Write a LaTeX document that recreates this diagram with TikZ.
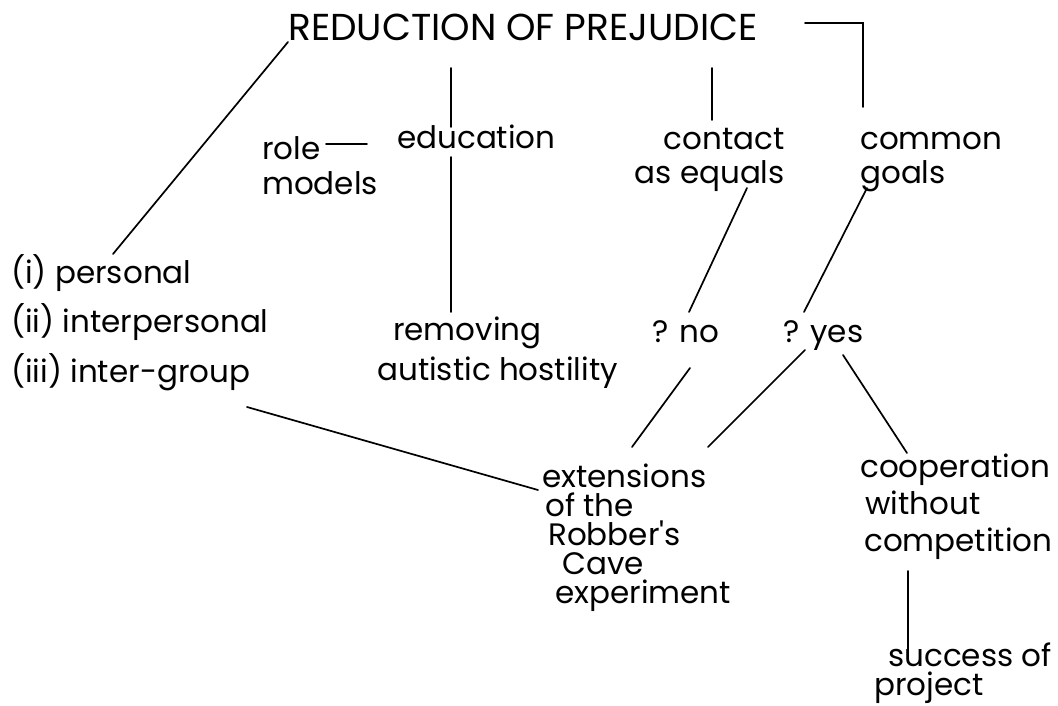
\documentclass[tikz,border=0pt]{standalone}
\usepackage{fontspec}
\setmainfont{Poppins}
\usetikzlibrary{calc}
\tikzset{
  termo/.style={anchor=base west, inner sep=0pt, align=left,
                font=\fontsize{31}{35}\selectfont},
  titulo/.style={termo, font=\fontsize{37.5}{40}\selectfont},
  traco/.style={line width=1.7pt, black, line cap=round},
}

\begin{document}
\begin{tikzpicture}[x=1pt, y=-1pt]
  \useasboundingbox (0,0) rectangle (1058,706);
  % nodes at pixel positions (base of last line)
  \node[titulo] (reduction) at (288,41) {REDUCTION OF PREJUDICE};
  \node[termo] (rolemodels) at (262,194) {role\\models};
  \node[termo] (education) at (397,149) {education};
  \node[termo, anchor=base east, align=right] (contact) at (785,184) {contact\\as equals};
  \node[termo] (common) at (860,184) {common\\goals};
  \node[termo] (personal) at (11,283) {(i) personal};
  \node[termo] (interpersonal) at (11,332) {(ii) interpersonal};
  \node[termo] (intergroup) at (11,382) {(iii) inter-group};
  \node[termo, font=\fontsize{31}{40}\selectfont] (removing) at (377,380)
       {\hspace{16pt}removing\\autistic hostility};
  \node[termo] (no) at (652,342) {? no};
  \node[termo] (yes) at (783,342) {? yes};
  \node[termo, font=\fontsize{31}{29}\selectfont] (extensions) at (542,603)
       {extensions\\\hspace{3pt}of the\\\hspace{6pt}Robber\textquotesingle s\\\hspace{20pt}Cave\\\hspace{13pt}experiment};
  \node[termo, font=\fontsize{31}{37}\selectfont] (cooperation) at (860,551)
       {cooperation\\\hspace{5pt}without\\\hspace{4pt}competition};
  \node[termo, font=\fontsize{31}{29}\selectfont] (success) at (874,695)
       {\hspace{14pt}success of\\project};
  % connectors
  \draw[traco] ($(reduction.base west)+(0,1)$) -- ($(personal.base west)+(102,-29)$);
  \draw[traco] ($(reduction.base west)+(163,27)$) -- ($(education.base west)+(54,-22)$);
  \draw[traco] ($(education.base west)+(54,8)$) -- ($(removing.base west)+(74,-68)$);
  \draw[traco] ($(reduction.base west)+(424,27)$) -- ($(contact.base east)+(-73,-64)$);
  \draw[traco] ($(reduction.base west)+(517,-18)$) -| ($(common.base west)+(3,-77)$);
  \draw[traco] ($(rolemodels.base west)+(64,-50)$) -- ($(education.base west)+(-30,-5)$);
  \draw[traco] ($(contact.base east)+(-38,4)$) -- ($(no.base west)+(37,-30)$);
  \draw[traco] ($(common.base west)+(7,4)$) -- ($(yes.base west)+(21,-30)$);
  \draw[traco] ($(no.base west)+(38,26)$) -- ($(extensions.base west)+(90,-156)$);
  \draw[traco] ($(yes.base west)+(22,8)$) -- ($(extensions.base west)+(166,-156)$);
  \draw[traco] ($(yes.base west)+(60,13)$) -- ($(cooperation.base west)+(47,-98)$);
  \draw[traco] ($(intergroup.base west)+(236,25)$) -- ($(extensions.base west)+(-4,-113)$);
  \draw[traco] ($(cooperation.base west)+(48,20)$) -- ($(success.base west)+(34,-37)$);
\end{tikzpicture}
\end{document}
